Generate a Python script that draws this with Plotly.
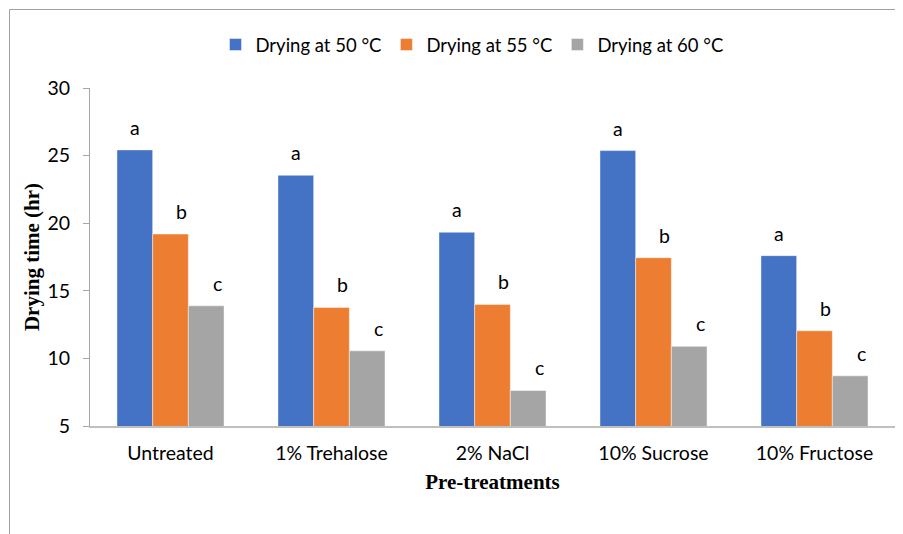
import plotly.graph_objects as go

categories = ["Untreated", "1% Trehalose", "2% NaCl", "10% Sucrose", "10% Fructose"]
series_names = ["Drying at 50 °C", "Drying at 55 °C", "Drying at 60 °C"]
values_50 = [25.42, 23.54, 19.33, 25.37, 17.60]
values_55 = [19.20, 13.77, 13.99, 17.45, 12.04]
values_60 = [13.89, 10.56, 7.63, 10.89, 8.71]
letters_50 = ["a", "a", "a", "a", "a"]
letters_55 = ["b", "b", "b", "b", "b"]
letters_60 = ["c", "c", "c", "c", "c"]
y_ticks = [5, 10, 15, 20, 25, 30]

colors = ["#4472C4", "#ED7D31", "#A5A5A5"]
all_values = [values_50, values_55, values_60]
all_letters = [letters_50, letters_55, letters_60]

# the page body has an 8px margin, so the figure starts at (8, 8) in the window
OFF = 8
W, H = 903 - OFF, 534 - OFF
ML, MR, MT, MB = 90 - OFF, 8, 88 - OFF, 108
plot_w = W - ML - MR
plot_h = H - MT - MB

FONT = "Lato, Carlito, Calibri, sans-serif"
SERIF = "Liberation Serif, Times New Roman, serif"
FS = 19.5

fig = go.Figure()
for name, vals, col in zip(series_names, all_values, colors):
    fig.add_trace(go.Bar(
        x=categories, y=vals, name=name,
        marker=dict(color=col, line=dict(color="rgba(255,255,255,0.6)", width=0.75)),
    ))

bargap = 0.335
cat_px = plot_w / len(categories)
bar_px = cat_px * (1 - bargap) / 3
label_font = dict(family=FONT, size=FS, color="#000000")
extra_shift = [0, 11, 11]
annotations = []
for i, (vals, lets) in enumerate(zip(all_values, all_letters)):
    for cat, v, t in zip(categories, vals, lets):
        annotations.append(dict(
            x=cat, y=v, xref="x", yref="y", text=t, showarrow=False,
            yanchor="bottom", yshift=9, xshift=(i - 1) * bar_px + extra_shift[i],
            font=label_font,
        ))

# legend centre in window pixels -> paper coordinates
leg_x = (472 - OFF - ML) / plot_w
leg_y = 1 + (MT - (45 - OFF)) / plot_h

fig.update_layout(
    width=W, height=H,
    margin=dict(l=ML, r=MR, t=MT, b=MB, pad=0, autoexpand=False),
    paper_bgcolor="white", plot_bgcolor="white",
    barmode="group", bargap=bargap, bargroupgap=0,
    font=dict(family=FONT, size=FS, color="#000000"),
    showlegend=True,
    legend=dict(orientation="h", x=leg_x, y=leg_y, xanchor="center", yanchor="middle",
                font=dict(size=18.5, color="#000000"), traceorder="normal",
                itemwidth=30),
    xaxis=dict(
        showline=True, linecolor="#BFBFBF", linewidth=2, ticks="", automargin=False,
        tickfont=dict(size=FS), showgrid=False, ticklabelstandoff=9,
        title=dict(text="<b>Pre-treatments</b>", standoff=11,
                   font=dict(family=SERIF, size=21, color="#000000")),
    ),
    yaxis=dict(
        range=[5, 30], tickvals=y_ticks, showline=True, linecolor="#A6A6A6", linewidth=1,
        ticks="outside", ticklen=6, tickcolor="#A6A6A6", showgrid=False, zeroline=False,
        tickfont=dict(size=FS), ticklabelstandoff=9, automargin=False,
        title=dict(text="<b>Drying time (hr)</b>", standoff=2,
                   font=dict(family=SERIF, size=21, color="#000000")),
    ),
    annotations=annotations,
)

# chart-area border (left and top edges visible in the reference)
bx0 = (9.5 - OFF - ML) / plot_w
by1 = 1 + (MT - (9.5 - OFF)) / plot_h
fig.add_shape(type="line", xref="paper", yref="paper", x0=bx0, x1=bx0, y0=-0.4, y1=by1,
              line=dict(color="#A0A0A0", width=1))
fig.add_shape(type="line", xref="paper", yref="paper", x0=bx0, x1=1.05, y0=by1, y1=by1,
              line=dict(color="#A0A0A0", width=1))

fig.write_html("out.html")
